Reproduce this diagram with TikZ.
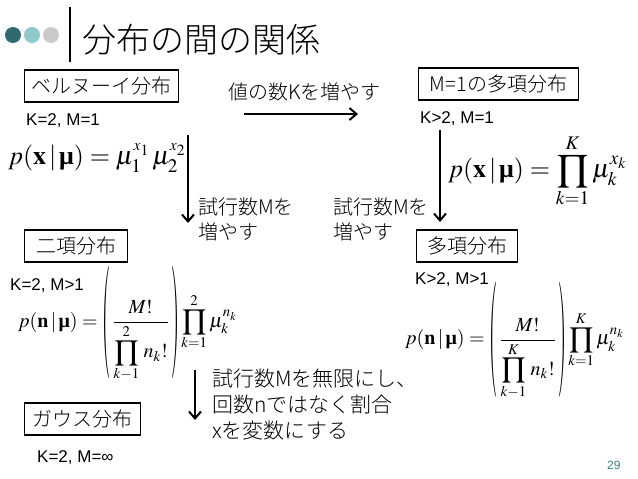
\documentclass[tikz,border=0pt]{standalone}
\usepackage{amsmath}
\usepackage{mathptmx}
\usepackage{graphicx}
\usepackage{fontspec}
\setmainfont{Liberation Sans}
\newfontfamily\jp{Noto Sans CJK JP Light}
\newfontfamily\serifgr{Liberation Serif}
\newcommand{\bmu}{\text{\serifgr\bfseries μ}}
\newcommand{\tallopen}[1]{\mathopen{\vcenter{\hbox{\resizebox*{8pt}{#1}{$($}}}}}
\newcommand{\tallclose}[1]{\mathclose{\vcenter{\hbox{\resizebox*{8pt}{#1}{$)$}}}}}
\usetikzlibrary{arrows.meta}
\definecolor{dotdark}{HTML}{2E6A6E}
\definecolor{dotlight}{HTML}{8FC8CB}
\definecolor{dotgray}{HTML}{C9C9C9}
\definecolor{pagenum}{HTML}{3E7F83}
\tikzset{
  distbox/.style={draw,line width=1.1pt,anchor=west,minimum height=32pt,inner xsep=4pt,font=\jp\fontsize{20}{24}\selectfont},
  cond/.style={anchor=west,inner sep=0pt,font=\fontsize{17}{19}\selectfont},
  note/.style={anchor=west,inner sep=0pt,align=left,font=\jp\fontsize{20}{25}\selectfont},
  formula/.style={anchor=west,inner sep=0pt},
  flow/.style={line width=2.2pt,-{Straight Barb[length=7pt,width=12pt,line width=2pt]}}
}
\begin{document}
\begin{tikzpicture}[x=1pt,y=-1pt]
  \useasboundingbox[fill=white] (0,0) rectangle (638,479);
  % title
  \fill[dotdark] (13,35) circle (8);
  \fill[dotlight] (32,35) circle (8);
  \fill[dotgray] (51,35) circle (8);
  \draw[line width=2pt] (70,7)--(70,62);
  \node[anchor=west,inner sep=0pt,font=\jp\fontsize{34}{36}\selectfont] (title) at (82,40) {分布の間の関係};
  % distributions
  \node[distbox,minimum width=154pt] (bern) at (24,86) {ベルヌーイ分布};
  \node[distbox,minimum width=160pt] (multione) at (418,84) {M=1の多項分布};
  \node[distbox,minimum width=103pt] (binom) at (24,246) {二項分布};
  \node[distbox,minimum width=101pt] (multi) at (416,246) {多項分布};
  \node[distbox,minimum width=116pt] (gauss) at (24,419) {ガウス分布};
  \node[cond] (cbern) at (26,121) {K=2, M=1};
  \node[cond] (cmultione) at (420,119) {K>2, M=1};
  \node[cond] (cbinom) at (10,286) {K=2, M>1};
  \node[cond] (cmulti) at (415,280) {K>2, M>1};
  \node[cond] (cgauss) at (37,458) {K=2, M=∞};
  % formulas
  \node[formula,font=\fontsize{26}{30}\selectfont] (fbern) at (8,158)
    {$p(\mathbf{x}\,|\,\bmu) = \mu_1^{\scriptscriptstyle x_1}\,\mu_2^{\scriptscriptstyle x_2}$};
  \node[formula,font=\fontsize{26}{30}\selectfont] (fmultione) at (448,171)
    {$\displaystyle p(\mathbf{x}\,|\,\bmu) = \prod_{k=1}^{K}\mu_k^{x_k}$};
  \node[formula,font=\fontsize{20}{24}\selectfont] (fbinom) at (18,324)
    {$\displaystyle p(\mathbf{n}\,|\,\bmu) = \tallopen{112pt}\,\frac{M!}{\displaystyle\prod_{k-1}^{2}\, n_k!}\,\tallclose{112pt}\prod_{k=1}^{2}\mu_k^{n_k}$};
  \node[formula,font=\fontsize{20}{24}\selectfont] (fmulti) at (405,341)
    {$\displaystyle p(\mathbf{n}\,|\,\bmu) = \tallopen{115pt}\,\frac{M!}{\displaystyle\prod_{k-1}^{K}\, n_k!}\,\tallclose{115pt}\prod_{k=1}^{K}\mu_k^{n_k}$};
  % arrows
  \coordinate (ka) at (244,114); \coordinate (kb) at (358,114);
  \coordinate (la) at (188,135); \coordinate (lb) at (188,223);
  \coordinate (ra) at (440,130); \coordinate (rb) at (440,222);
  \coordinate (ga) at (195,370); \coordinate (gb) at (195,420);
  \draw[flow] (ka)--(kb);
  \draw[flow] (la)--(lb);
  \draw[flow] (ra)--(rb);
  \draw[flow] (ga)--(gb);
  \node[note] (nk) at (228,92) {値の数Kを増やす};
  \node[note] (nl) at (198,219) {試行数Mを\\増やす};
  \node[note] (nr) at (333,219) {試行数Mを\\増やす};
  \node[note,font=\jp\fontsize{21}{26}\selectfont] (ng) at (212,405) {試行数Mを無限にし、\\回数nではなく割合\\xを変数にする};
  \node[anchor=west,inner sep=0pt,text=pagenum,font=\fontsize{12}{14}\selectfont] (page) at (607,465) {29};
\end{tikzpicture}
\end{document}
